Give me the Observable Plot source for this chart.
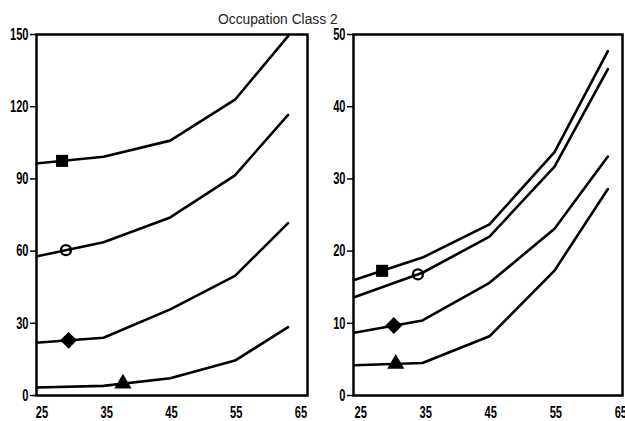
<!DOCTYPE html>
<html>
<head>
<meta charset="utf-8">
<script src="https://cdn.jsdelivr.net/npm/d3@7"></script>
<script src="https://cdn.jsdelivr.net/npm/@observablehq/plot@0.6"></script>
<style>
  html, body { margin: 0; padding: 0; background: #fff; }
  #chart { position: relative; width: 625px; height: 421px; overflow: hidden; }
  #title { position: absolute; top: 12px; left: 218px; font: 13.8px "Liberation Sans", Arial, sans-serif; color: #222; white-space: nowrap; }
  .panel { position: absolute; top: 0; }
</style>
</head>
<body>
<div id="chart">
  <div id="title">Occupation Class 2</div>
  <div id="left" class="panel" style="left:0px"></div>
  <div id="right" class="panel" style="left:315px"></div>
</div>
<script>
// Ages at which each curve is sampled
const ages = [24, 34.5, 44.8, 54.8, 63];
const xTicks = [25, 35, 45, 55, 65];

// Left panel curves
const leftSquare   = [96.4, 99.2, 105.9, 122.9, 149.3];
const leftCircle   = [57.7, 63.7, 74.0, 91.5, 116.6];
const leftDiamond  = [21.9, 24.0, 35.8, 49.7, 71.6];
const leftTriangle = [3.3, 4.0, 7.2, 14.5, 28.4];
const leftYTicks = [0, 30, 60, 90, 120, 150];

// Right panel curves
const rightSquare   = [16.0, 19.1, 23.7, 33.7, 47.7];
const rightCircle   = [13.6, 17.0, 22.0, 31.7, 45.2];
const rightDiamond  = [8.7, 10.4, 15.6, 23.1, 33.1];
const rightTriangle = [4.2, 4.5, 8.2, 17.3, 28.6];
const rightYTicks = [0, 10, 20, 30, 40, 50];

// Age at which each curve carries its marker
const leftMarkAges  = {square: 28.1, circle: 28.7, diamond: 29.1, triangle: 37.5};
const rightMarkAges = {square: 28.3, circle: 33.8, diamond: 30.1, triangle: 30.4};

const series = ["square", "circle", "diamond", "triangle"];

function rows(seriesList) {
  const out = [];
  seriesList.forEach((vals, i) => vals.forEach((v, j) => out.push({series: series[i], age: ages[j], value: v})));
  return out;
}

// Point on a curve at a given age (linear between samples)
function interp(vals, a) {
  for (let j = 0; j < ages.length - 1; j++) {
    if (a >= ages[j] && a <= ages[j + 1]) {
      const t = (a - ages[j]) / (ages[j + 1] - ages[j]);
      return vals[j] + t * (vals[j + 1] - vals[j]);
    }
  }
  return vals[vals.length - 1];
}

function marker(seriesList, markAges, name) {
  const i = series.indexOf(name);
  return [{age: markAges[name], value: interp(seriesList[i], markAges[name])}];
}

const tickFont = {fontFamily: "'Liberation Sans', Arial, sans-serif", fontSize: "15px", fontWeight: "bold"};

// Squeeze tick labels into a narrow, tall face (scaling about each label's anchor)
function condense(svg, sx, sy) {
  d3.select(svg).selectAll('g[aria-label$="tick label"] text').each(function () {
    const el = d3.select(this);
    const t = el.attr("transform") || "";
    el.attr("transform", `${t} scale(${sx},${sy})`);
  });
  return svg;
}

function panel({seriesList, markAges, yDomain, yTicks, xDomain, width, marginLeft, marginRight}) {
  const data = rows(seriesList);
  const svg = Plot.plot({
    width,
    height: 421,
    marginTop: 34,
    marginBottom: 26,
    marginLeft,
    marginRight,
    style: {...tickFont, color: "#000", background: "transparent", overflow: "visible"},
    x: {domain: xDomain, label: null},
    y: {domain: yDomain, label: null},
    marks: [
      Plot.axisY({ticks: yTicks, tickSize: 6, tickPadding: 2, strokeWidth: 1.5, label: null}),
      Plot.axisX({ticks: xTicks, tickSize: 0, tickPadding: 11, label: null}),
      Plot.line(data, {x: "age", y: "value", z: "series", stroke: "#000", strokeWidth: 2.6, clip: true}),
      Plot.dot(marker(seriesList, markAges, "square"), {x: "age", y: "value", symbol: "square", fill: "#000", r: 6.8}),
      Plot.dot(marker(seriesList, markAges, "diamond"), {x: "age", y: "value", symbol: "diamond2", fill: "#000", r: 7.6}),
      Plot.dot(marker(seriesList, markAges, "triangle"), {x: "age", y: "value", symbol: "triangle", fill: "#000", r: 6.4}),
      Plot.dot(marker(seriesList, markAges, "circle"), {x: "age", y: "value", symbol: "circle", fill: "none", stroke: "#000", strokeWidth: 2.3, r: 5}),
      Plot.frame({stroke: "#000", strokeWidth: 2.5})
    ]
  });
  return condense(svg, 0.74, 1.1);
}

document.getElementById("left").append(panel({
  seriesList: [leftSquare, leftCircle, leftDiamond, leftTriangle],
  markAges: leftMarkAges,
  yDomain: [0, 150], yTicks: leftYTicks,
  xDomain: [24.15, 66.0],
  width: 315, marginLeft: 36, marginRight: 8
}));

document.getElementById("right").append(panel({
  seriesList: [rightSquare, rightCircle, rightDiamond, rightTriangle],
  markAges: rightMarkAges,
  yDomain: [0, 50], yTicks: rightYTicks,
  xDomain: [23.9, 65.25],
  width: 310, marginLeft: 38, marginRight: 3
}));
</script>
</body>
</html>
